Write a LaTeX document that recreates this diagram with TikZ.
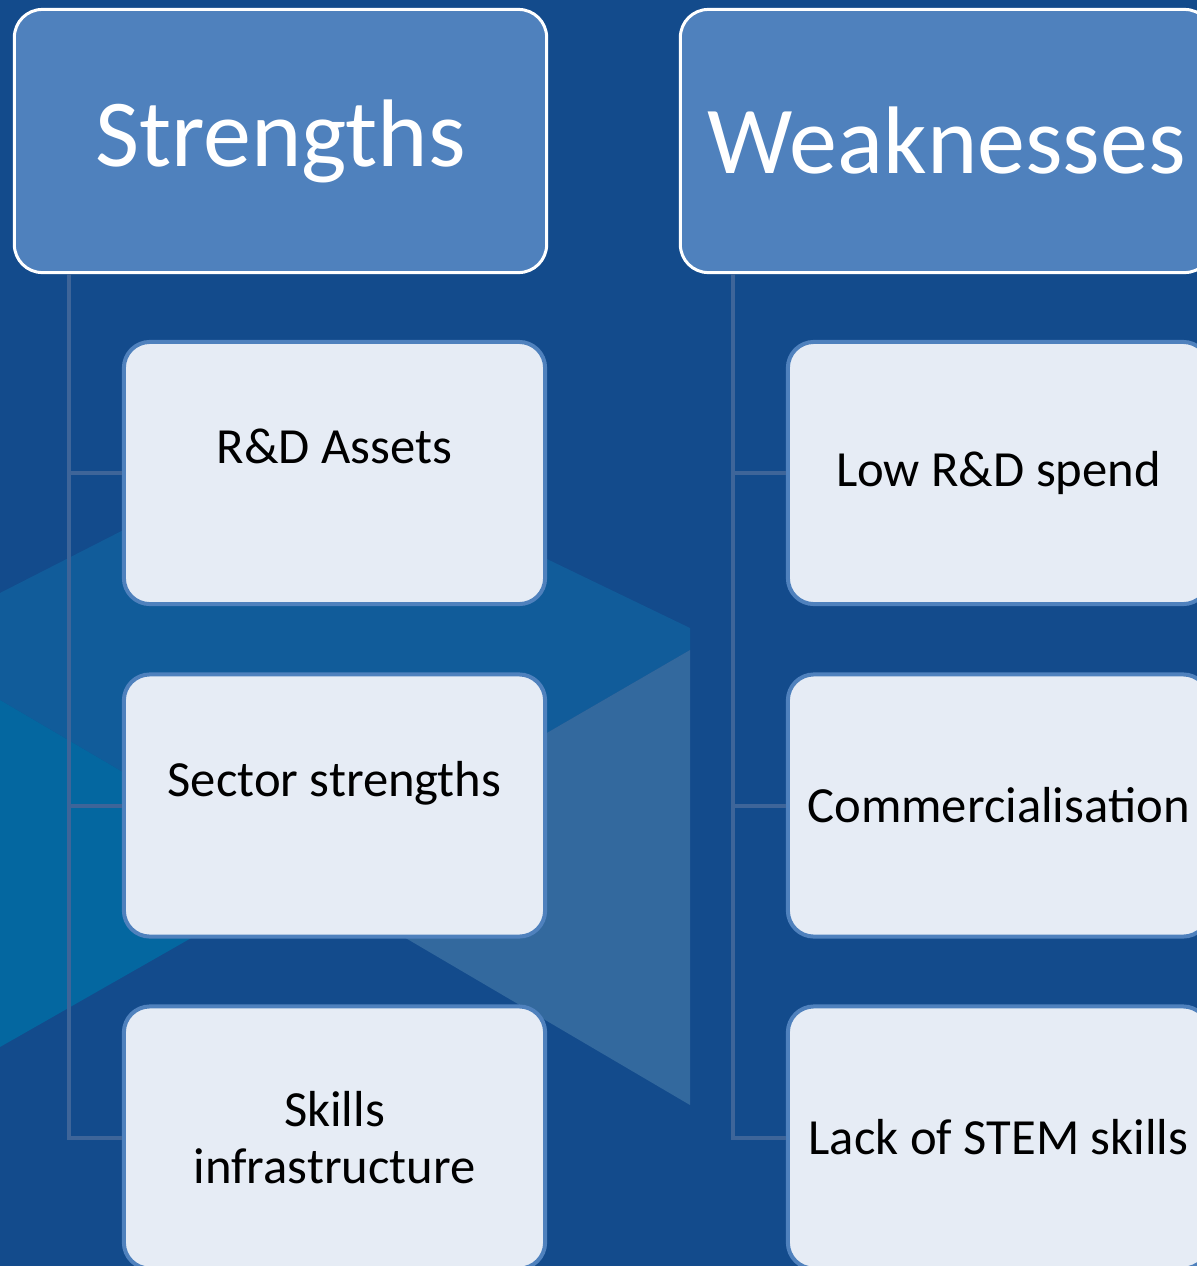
\documentclass[tikz,border=0pt]{standalone}
\usepackage{fontspec}
\setmainfont{Carlito}
\usepackage{tikz}
\usetikzlibrary{positioning}

\definecolor{bgdark}{HTML}{134B8C}
\definecolor{cubetop}{HTML}{115C9A}
\definecolor{cubeleft}{HTML}{0467A0}
\definecolor{cuberight}{HTML}{33699E}
\definecolor{headfill}{HTML}{4F81BD}
\definecolor{childfill}{HTML}{E6ECF5}
\definecolor{linkcol}{HTML}{3E6599}

\begin{document}
\begin{tikzpicture}[x=0.01cm, y=-0.01cm,
    headbox/.style={draw=white, line width=0.03cm, fill=headfill, rounded corners=0.28cm,
      minimum width=5.32cm, minimum height=2.63cm, text=white, font=\fontsize{27.3pt}{33pt}\selectfont},
    childbox/.style={draw=headfill, line width=0.04cm, fill=childfill, rounded corners=0.26cm,
      minimum width=4.21cm, minimum height=2.62cm, align=center, font=\fontsize{14.4pt}{16pt}\selectfont},
    lifted/.style={text depth=15pt},
    link/.style={draw=linkcol, line width=0.04cm}]
      \useasboundingbox (0,0) rectangle (1197,1266);
      \clip (0,0) rectangle (1197,1266);
      % backdrop
      \fill[bgdark] (0,0) rectangle (1197,1266);
      \fill[cubetop] (0,593) -- (300,440) -- (690,628) -- (690,650) -- (300,876) -- (0,700) -- cycle;
      \fill[cubeleft] (0,700) -- (300,876) -- (0,1047) -- cycle;
      \fill[cuberight] (690,650) -- (690,1105) -- (300,876) -- cycle;

      \node[headbox] (sh) at (280.5,141) {Strengths};
      \node[headbox] (wh) at (946.5,141) {Weaknesses};

      \node[childbox, lifted] (s1) at (334.5,473) {R\&D Assets};
      \node[childbox, lifted] (s2) at (334.5,805.5) {Sector strengths};
      \node[childbox] (s3) at (334.5,1137.5) {Skills\\infrastructure};

      \node[childbox] (w1) at (998.5,473) {Low R\&D spend};
      \node[childbox] (w2) at (998.5,805.5) {Commercialisation};
      \node[childbox] (w3) at (998.5,1137.5) {Lack of STEM skills};

      \coordinate (st) at (69,274);
      \coordinate (wt) at (733,274);
      \foreach \c in {s1,s2,s3} \draw[link] (st) |- (\c.west);
      \foreach \c in {w1,w2,w3} \draw[link] (wt) |- (\c.west);
    \end{tikzpicture}
\end{document}
